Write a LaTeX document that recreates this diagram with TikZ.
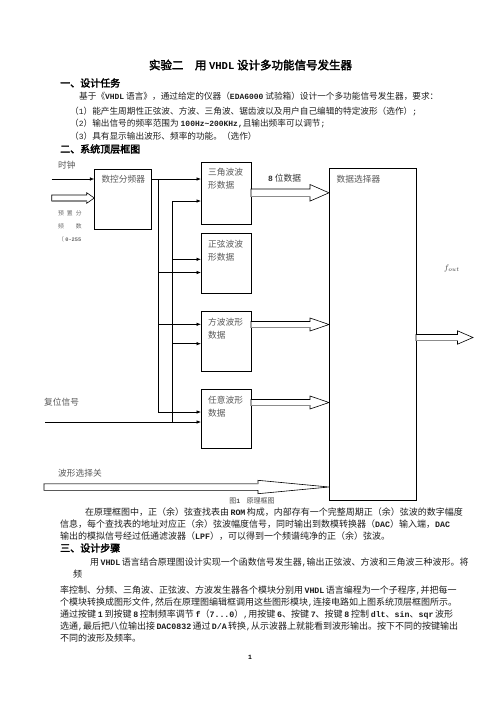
\documentclass[tikz,border=0pt]{standalone}
\usepackage{fontspec}
\setmainfont{Noto Sans CJK SC}[AutoFakeBold=2.5]
\newfontfamily\mylat{Liberation Mono}[Scale=0.92]
\newcommand\lb[1]{{\mylat\bfseries #1}}
\usetikzlibrary{arrows.meta,calc}
\XeTeXlinebreaklocale "zh"
\XeTeXlinebreakskip=0pt plus 2pt
\newcommand\fatarr[6]{%
  \draw[fat] let \p1=(#1), \p2=(#2) in
    (\x1,\y1+#3pt) -- (\x2-#5pt,\y1+#3pt) -- (\x2-#5pt,\y1+#4pt) -- (\x2,\y1)
    -- (\x2-#5pt,\y1-#4pt) -- (\x2-#5pt,\y1-#3pt) -- (\x1,\y1-#3pt) -- cycle;
  \draw[fatshade] let \p1=(#1), \p2=(#2) in
    (\x1,\y1#6#3pt) -- (\x2-#5pt,\y1#6#3pt);
}
\begin{document}
\begin{tikzpicture}[x=1pt,y=-1pt,
  box/.style={draw, line width=0.8pt, inner sep=0, anchor=north west},
  lbl/.style={anchor=north west, inner sep=0, align=left, font=\fontsize{8.7}{13.3}\selectfont, text=black!65},
  dl/.style={anchor=west, inner sep=0, font=\fontsize{8.7}{10}\selectfont, text=black!65},
  tiny/.style={anchor=west, inner sep=0, font=\fontsize{5.8}{7}\selectfont, text=black!60},
  arr/.style={line width=0.7pt, -{Latex[length=4.5pt,width=3.6pt]}},
  wire/.style={line width=0.7pt},
  fat/.style={draw, fill=white, line width=0.6pt, line join=miter},
  fatshade/.style={draw=black!45, line width=1.4pt},
  t/.style={anchor=west, inner sep=0, font=\fontsize{9}{11}\selectfont, text=black!88},
  ts/.style={t, font=\fontsize{8.65}{11}\selectfont},
  h/.style={anchor=west, inner sep=0, font=\fontsize{10}{12}\selectfont\bfseries},
  ttl/.style={inner sep=0, font=\fontsize{11.5}{13}\selectfont\bfseries},
]
\useasboundingbox (0,0) rectangle (496,702);
\fill[white] (0,0) rectangle (496,702);

% ---------- heading text ----------
\node[ttl] (title) at (250.5,65) {实验二\hspace{1em}用 \lb{VHDL} 设计多功能信号发生器};
\node[h] (h1) at (60,83) {一、设计任务};
\node[ts] (p0) at (79,96) {基于《\lb{VHDL} 语言》，通过给定的仪器（\lb{EDA6000} 试验箱）设计一个多功能信号发生器，要求：};
\node[ts] (p1) at (70,111.5) {（{\mylat 1}）能产生周期性正弦波、方波、三角波、锯齿波以及用户自己编辑的特定波形（选作）{\mylat ;}};
\node[ts] (p2) at (70,123.5) {（{\mylat 2}）输出信号的频率范围为 \lb{100Hz\textasciitilde 200KHz,}且输出频率可以调节{\mylat ;}};
\node[ts] (p3) at (70,136) {（{\mylat 3}）具有显示输出波形、频率的功能。（选作）};
\node[h] (h2) at (60,149) {二、系统顶层框图};

% ---------- boxes ----------
\node[box, minimum width=56.7pt, minimum height=60.3pt] (clkdiv) at (94.3,169) {};
\node[box, minimum width=50pt, minimum height=61.7pt] (tri) at (201,162.3) {};
\node[box, minimum width=50pt, minimum height=60pt] (sin) at (201,233.3) {};
\node[box, minimum width=50pt, minimum height=60pt] (sqr) at (201,311) {};
\node[box, minimum width=50pt, minimum height=59pt] (arb) at (201,389) {};
\node[box, minimum width=87pt, minimum height=331.7pt] (mux) at (329,168.3) {};

\node[lbl] (clkdivt) at ([shift={(7,6)}]clkdiv.north west) {数控分频器};
\node[lbl] (trit) at ([shift={(7,5.5)}]tri.north west) {三角波波\\形数据};
\node[lbl] (sint) at ([shift={(7,6.5)}]sin.north west) {正弦波波\\形数据};
\node[lbl] (sqrt) at ([shift={(7,7)}]sqr.north west) {方波波形\\数据};
\node[lbl] (arbt) at ([shift={(7,6.5)}]arb.north west) {任意波形\\数据};
\node[lbl] (muxt) at ([shift={(7.5,6.5)}]mux.north west) {数据选择器};

% ---------- outside labels ----------
\node[dl] (clkl) at (58,165) {时钟};
\node[tiny] (pre1) at (58,213) {预\hspace{3pt}置\hspace{3pt}分};
\node[tiny] (pre2) at (58,226) {频\hspace{12pt}数};
\node[tiny] (pre3) at (58,239) {（ \lb{0-255}};
\node[dl, text=black!80] (bits) at (268,178.3) {\lb{8} 位数据};
\node[dl] (rstl) at (44,402) {复位信号};
\node[dl] (sell) at (58,473) {波形选择关};
\node[anchor=west, inner sep=0, text=black!75, font=\fontsize{8.5}{10}\selectfont] (fout) at (444,268) {$f_{out}$};
\node[inner sep=0, font=\fontsize{7}{8}\selectfont, text=black!70] (cap) at (252,500.5) {图\lb{1}\hspace{0.9em}原理框图};

% ---------- thin wires ----------
\coordinate (clkin) at (51.7,179);
\coordinate (b1top) at (158.3,179);
\coordinate (b1sin) at (158.3,272.5);
\coordinate (b1sqr) at (158.3,324.3);
\coordinate (b1bot) at (158.3,412);
\coordinate (b2top) at (172.7,201);
\coordinate (b2sin) at (172.7,259.3);
\coordinate (b2sqr) at (172.7,343.7);
\coordinate (b2bot) at (172.7,422);
\coordinate (rstin) at (45,422);

\draw[arr] (clkin) -- (clkin -| clkdiv.west);
\draw[arr] (clkdiv.east |- b1top) -- (b1top -| tri.west);
\draw[wire] (b1top) -- (b1bot);
\draw[wire] (b2top) -- (b2bot);
\draw[arr] (b2top) -- (b2top -| tri.west);
\draw[arr] (b2sin) -- (b2sin -| sin.west);
\draw[arr] (b1sin) -- (b1sin -| sin.west);
\draw[arr] (b1sqr) -- (b1sqr -| sqr.west);
\draw[arr] (b2sqr) -- (b2sqr -| sqr.west);
\draw[arr] (b1bot) -- (b1bot -| arb.west);
\draw[arr] (rstin) -- (rstin -| arb.west);

% ---------- fat (bus) arrows ----------
\coordinate (prein) at (51.7,198);
\coordinate (prend) at (prein -| clkdiv.west);
\coordinate (tout) at (251,192.8);
\coordinate (tend) at (tout -| mux.west);
\coordinate (qout) at (251,324.5);
\coordinate (qend) at (qout -| mux.west);
\coordinate (aout) at (251,402.5);
\coordinate (aend) at (aout -| mux.west);
\coordinate (mout) at (416,337.5);
\coordinate (mend) at (473,337.5);
\coordinate (selin) at (44,487);
\coordinate (selend) at (selin -| mux.west);

\fatarr{prein}{prend}{3}{5.3}{7.6}{-}
\fatarr{tout}{tend}{3.8}{8.3}{19}{-}
\fatarr{qout}{qend}{3}{6.5}{19}{-}
\fatarr{aout}{aend}{3}{6.5}{19}{-}
\fatarr{mout}{mend}{3}{6.7}{15.5}{-}
\fatarr{selin}{selend}{3.3}{6.7}{71}{+}

% ---------- body text ----------
\node[t] (p4) at (85,512) {\makebox[366pt][s]{在原理框图中，正（余）弦查找表由 \lb{ROM} 构成，内部存有一个完整周期正（余）弦波的数字幅度}};
\node[t] (p5) at (60,524) {\makebox[390pt][s]{信息，每个查找表的地址对应正（余）弦波幅度信号，同时输出到数模转换器（\lb{DAC}）输入端，\lb{DAC}}};
\node[t] (p6) at (60,536) {输出的模拟信号经过低通滤波器（\lb{LPF}），可以得到一个频谱纯净的正（余）弦波。};
\node[h] (h3) at (60,548) {三、设计步骤};
\node[t] (p7) at (90,562) {\makebox[362pt][s]{用 \lb{VHDL} 语言结合原理图设计实现一个函数信号发生器{\mylat ,}输出正弦波、方波和三角波三种波形。将}};
\node[t] (p8) at (73,574) {频};
\node[t] (p9) at (60,590) {\makebox[394pt][s]{率控制、分频、三角波、正弦波、方波发生器各个模块分别用 \lb{VHDL} 语言编程为一个子程序{\mylat ,}并把每一}};
\node[t] (p10) at (60,602) {\makebox[394pt][s]{个模块转换成图形文件{\mylat ,}然后在原理图编辑框调用这些图形模块{\mylat ,}连接电路如上图系统顶层框图所示。}};
\node[t] (p11) at (60,614) {\makebox[393pt][s]{通过按键 \lb{1} 到按键 \lb{8} 控制频率调节 \lb{f}（\lb{7...0}）{\mylat ,}用按键 \lb{6}、按键 \lb{7}、按键 \lb{8} 控制 \lb{dlt}、\lb{sin}、\lb{sqr} 波形}};
\node[t] (p12) at (60,626) {\makebox[394pt][s]{选通{\mylat ,}最后把八位输出接 \lb{DAC0832} 通过 \lb{D/A} 转换{\mylat ,}从示波器上就能看到波形输出。按下不同的按键输出}};
\node[t] (p13) at (60,638) {不同的波形及频率。};
\node[inner sep=0, font=\fontsize{7}{8}\selectfont] (pg) at (250,657) {\lb{1}};
\end{tikzpicture}
\end{document}
